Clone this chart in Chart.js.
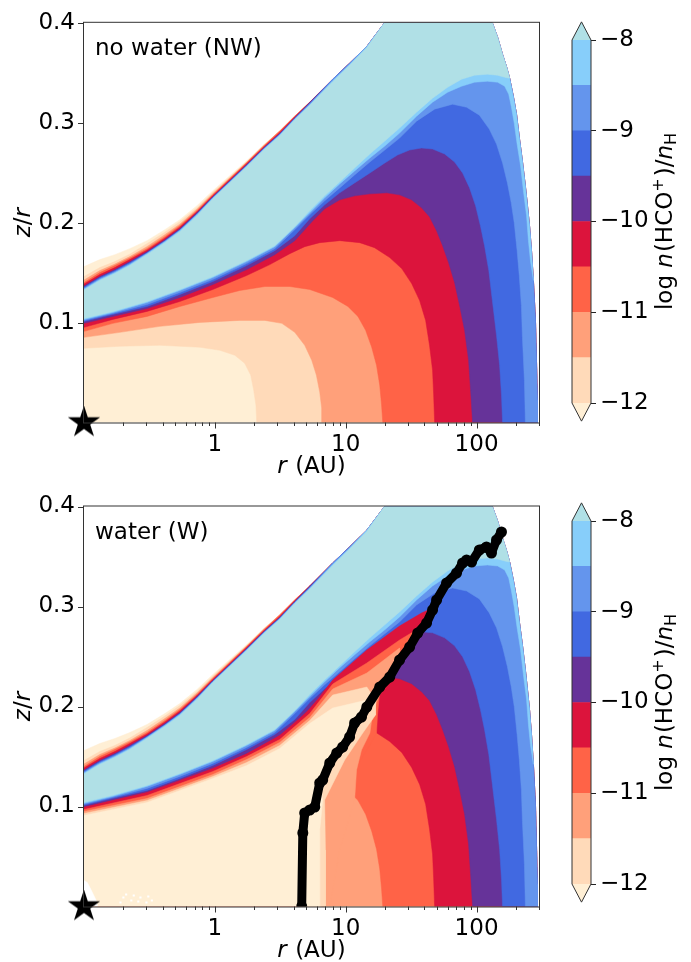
<!DOCTYPE html>
<html>
<head>
<meta charset="utf-8">
<script src="https://cdn.jsdelivr.net/npm/chart.js@4.4.0/dist/chart.umd.min.js"></script>
<style>
  html, body { margin: 0; padding: 0; background: #fff; }
  #wrap { position: relative; width: 691px; height: 962px; }
  canvas { position: absolute; }
</style>
</head>
<body>
<div id="wrap">
  <canvas id="nw" width="691" height="481" style="left:0;top:0;width:691px;height:481px"></canvas>
  <canvas id="cbnw" width="131" height="481" style="left:560px;top:0;width:131px;height:481px"></canvas>
  <canvas id="w" width="691" height="481" style="left:0;top:481px;width:691px;height:481px"></canvas>
  <canvas id="cbw" width="131" height="481" style="left:560px;top:481px;width:131px;height:481px"></canvas>
</div>
<script>
// axis ticks
const xMajor = [1, 10, 100];
const xMinor = [0.2, 0.3, 0.4, 0.5, 0.6, 0.7, 0.8, 0.9, 2, 3, 4, 5, 6, 7, 8, 9, 20, 30, 40, 50, 60, 70, 80, 90, 200, 300];
const yMajor = [0.1, 0.2, 0.3, 0.4];
const cbTicks = [-12, -11, -10, -9, -8];

// contour levels (log n(HCO+)/nH) and their fill colours
const levels = [-12, -11.5, -11, -10.5, -10, -9.5, -9, -8.5, -8];
const levelColors = ['#ffdab9', '#ffa07a', '#ff6347', '#dc143c', '#663399', '#4169e1', '#6495ed', '#87cefa', '#b0e0e6'];
const underColor = '#ffefd5';

// model domain outline [r (AU), z/r]
const domainEdge = [[0.1,0.156],[0.132,0.163],[0.172,0.168],[0.224,0.174],[0.303,0.182],[0.415,0.193],[0.54,0.203],[0.73,0.217],[0.965,0.232],[1.30,0.247],[1.75,0.262],[2.37,0.278],[3.13,0.2916],[4.08,0.3066],[5.31,0.3205],[7.95,0.3435],[10.7,0.3595],[14.5,0.3764],[19.8,0.4],[132,0.4],[145,0.3853],[158,0.3684],[170,0.3554],[179,0.3445],[191,0.3265],[202,0.3086],[212,0.2856],[224,0.2617],[236,0.2368],[245,0.2168],[254,0.1969],[263,0.1720],[272,0.1421],[282,0.1022],[287,0.0623],[292,0.0224],[292,0]];

// upper (surface) contours, from the inner edge outwards until they meet the edge
const top12  = [[0.1,0.146],[0.132,0.155],[0.172,0.161],[0.224,0.1685],[0.303,0.179],[0.415,0.1905],[0.54,0.201],[0.73,0.215],[0.965,0.2305],[1.30,0.2458],[1.75,0.261],[2.37,0.278]];
const top115 = [[0.1,0.1425],[0.132,0.152],[0.172,0.1585],[0.224,0.166],[0.303,0.176],[0.415,0.188],[0.54,0.1985],[0.73,0.2135],[0.965,0.229],[1.30,0.2448],[1.75,0.2605],[2.37,0.2772],[3.13,0.2916]];
const top11  = [[0.1,0.140],[0.132,0.150],[0.172,0.157],[0.224,0.1645],[0.303,0.174],[0.415,0.186],[0.54,0.197],[0.73,0.212],[0.965,0.228],[1.30,0.244],[1.75,0.260],[2.37,0.2768],[3.13,0.2916]];
const top105 = [[0.1,0.1385],[0.132,0.148],[0.172,0.155],[0.224,0.163],[0.303,0.1725],[0.415,0.1845],[0.54,0.1955],[0.73,0.211],[0.965,0.227],[1.30,0.243],[1.75,0.259],[2.37,0.2758],[3.13,0.2901],[4.08,0.3058],[5.31,0.3205]];
const top10  = [[0.1,0.1365],[0.132,0.146],[0.172,0.153],[0.224,0.161],[0.303,0.171],[0.415,0.183],[0.54,0.194],[0.73,0.210],[0.965,0.226],[1.30,0.242],[1.75,0.258],[2.37,0.275],[3.13,0.2891],[4.08,0.3051],[5.31,0.3205]];
const top95  = [[0.1,0.1355],[0.132,0.145],[0.172,0.152],[0.224,0.160],[0.303,0.170],[0.415,0.182],[0.54,0.193],[0.73,0.209],[0.965,0.2255],[1.30,0.2415],[1.75,0.2575],[2.37,0.2745],[3.13,0.2886],[4.08,0.3046],[5.31,0.3195],[7.95,0.3435]];
const top9   = [[0.1,0.1345],[0.132,0.144],[0.172,0.151],[0.224,0.159],[0.303,0.1695],[0.415,0.1815],[0.54,0.1925],[0.73,0.2085],[0.965,0.225],[1.30,0.241],[1.75,0.257],[2.37,0.274],[3.13,0.2881],[4.08,0.3041],[5.31,0.319],[7.95,0.3435]];
const top85  = [[0.1,0.1335],[0.132,0.143],[0.172,0.150],[0.224,0.158],[0.303,0.169],[0.415,0.181],[0.54,0.192],[0.73,0.208],[0.965,0.2245],[1.30,0.2405],[1.75,0.2565],[2.37,0.2735],[3.13,0.2876],[4.08,0.3036],[5.31,0.318],[7.95,0.342],[10.7,0.3583],[14.5,0.3764]];
const top8   = [[0.1,0.1325],[0.132,0.142],[0.172,0.149],[0.224,0.157],[0.303,0.168],[0.415,0.180],[0.54,0.191],[0.73,0.207],[0.965,0.224],[1.30,0.240],[1.75,0.256],[2.37,0.273],[3.13,0.287],[4.08,0.3031],[5.31,0.3175],[7.95,0.341],[10.7,0.3575],[14.5,0.375],[19.8,0.4]];

// lower contours, no-water model, from the inner edge to the midplane / outer edge
const low12  = [[0.1,0.0743],[0.188,0.0763],[0.38,0.0773],[0.77,0.0753],[1.09,0.0723],[1.42,0.0673],[1.69,0.0593],[1.88,0.0474],[1.98,0.0324],[2.06,0.0174],[2.09,0]];
const low115 = [[0.1,0.0852],[0.188,0.0902],[0.38,0.0962],[0.77,0.1002],[1.55,0.1022],[2.41,0.1022],[3.25,0.0992],[4.08,0.0902],[4.86,0.0773],[5.5,0.0623],[5.97,0.0474],[6.33,0.0304],[6.55,0.0145],[6.55,0]];
const low11  = [[0.1,0.0912],[0.166,0.0992],[0.303,0.1062],[0.54,0.1161],[0.965,0.1251],[1.55,0.1321],[2.41,0.1361],[3.74,0.1361],[5.31,0.1331],[7.95,0.1251],[10.4,0.1161],[12.4,0.1062],[14.2,0.0922],[15.8,0.0753],[17.2,0.0573],[18.2,0.0374],[18.8,0.0174],[19.2,0]];
const low105 = [[0.1,0.0952],[0.166,0.1032],[0.303,0.1112],[0.54,0.1211],[0.965,0.1331],[1.75,0.1471],[2.63,0.1580],[3.74,0.1690],[4.86,0.1760],[6.33,0.1800],[9.0,0.1820],[12.8,0.1800],[16.6,0.1750],[21.7,0.1650],[26.8,0.1540],[31.9,0.1391],[36.7,0.1221],[40.8,0.1022],[43.7,0.0773],[46.1,0.0523],[47.0,0.0274],[47.8,0]];
const low10  = [[0.1,0.0992],[0.166,0.1062],[0.303,0.1141],[0.54,0.1251],[0.965,0.1381],[1.75,0.1530],[2.87,0.1680],[4.08,0.1820],[5.6,0.2019],[6.91,0.2139],[9.0,0.2228],[11.7,0.2268],[15.3,0.2288],[20.6,0.2298],[25.8,0.2278],[31.9,0.2228],[38.0,0.2148],[43.7,0.2059],[49.5,0.1919],[55.0,0.1770],[61.1,0.1600],[67.9,0.1401],[74.2,0.1171],[81.0,0.0922],[86.9,0.0623],[90.0,0.0324],[93.2,0]];
const low95  = [[0.1,0.1012],[0.166,0.1082],[0.303,0.1161],[0.54,0.1281],[0.965,0.1411],[1.75,0.1570],[2.87,0.1720],[4.08,0.1869],[5.31,0.2039],[6.91,0.2178],[9.0,0.2298],[11.7,0.2398],[15.3,0.2497],[19.9,0.2597],[24.9,0.2677],[30.8,0.2727],[38.0,0.2747],[46.1,0.2737],[57.0,0.2687],[67.9,0.2607],[78.2,0.2497],[88.4,0.2348],[98.3,0.2168],[107,0.1969],[115,0.1770],[124,0.1520],[132,0.1221],[142,0.0872],[150,0.0573],[155,0.0274],[158,0]];
const low9   = [[0.1,0.1022],[0.166,0.1092],[0.303,0.1181],[0.54,0.1301],[0.965,0.1431],[1.75,0.1590],[2.87,0.1740],[4.08,0.1929],[5.31,0.2079],[6.91,0.2218],[9.0,0.2348],[11.7,0.2478],[15.3,0.2607],[19.9,0.2727],[25.8,0.2846],[34.8,0.3016],[47.8,0.3136],[65.6,0.3185],[83.9,0.3155],[105,0.3076],[125,0.2936],[142,0.2787],[158,0.2597],[172,0.2398],[184,0.2198],[194,0.1999],[204,0.1720],[212,0.1471],[220,0.1171],[224,0.0852],[232,0.0424],[236,0]];
const low85  = [[0.1,0.1032],[0.166,0.1102],[0.303,0.1201],[0.54,0.1321],[0.965,0.1451],[1.75,0.1610],[2.87,0.1760],[4.08,0.1949],[5.31,0.2099],[6.91,0.2248],[9.0,0.2388],[11.7,0.2517],[15.3,0.2647],[19.9,0.2767],[25.8,0.2896],[34.8,0.3066],[46.1,0.3205],[60.1,0.3305],[76.8,0.3365],[96.6,0.3405],[121,0.3415],[145,0.3405],[164,0.3365],[176,0.3285],[184,0.3166],[194,0.2996],[204,0.2787],[217,0.2567],[228,0.2318],[241,0.2069],[249,0.1820],[258,0.1620],[272,0.1421]];
const low8   = [[0.1,0.1042],[0.166,0.1112],[0.303,0.1211],[0.54,0.1331],[0.965,0.1461],[1.75,0.1620],[2.87,0.1770],[4.08,0.1959],[5.31,0.2119],[6.91,0.2268],[9.0,0.2408],[11.7,0.2547],[15.3,0.2687],[19.9,0.2817],[25.8,0.2946],[34.8,0.3106],[46.1,0.3245],[60.1,0.3355],[76.8,0.3435],[96.6,0.3475],[121,0.3485],[145,0.3475],[164,0.3455],[179,0.3445]];

// water model: low-abundance zone inside the snow line (upper/right boundary of each zone)
const wLow10  = [[0.1,0.0992],[0.303,0.1141],[0.965,0.1381],[1.75,0.1525],[3.13,0.171],[5.31,0.197],[7.95,0.2265],[14.5,0.2565],[25.8,0.2805],[38.0,0.2935],[46.1,0.2985],[46.1,0.2945],[41.5,0.2815],[35.5,0.2705],[30.8,0.2565],[25.8,0.2435],[21.7,0.2265],[18.2,0.2165],[16.1,0.2015],[12.8,0.1845],[7.55,0.1445],[4.86,0.0985],[4.61,0]];
const wLow105 = [[0.1,0.097],[0.303,0.111],[0.965,0.135],[1.75,0.150],[3.13,0.167],[5.31,0.193],[7.95,0.2225],[14.5,0.2435],[25.8,0.2665],[36.7,0.2785],[30.8,0.2565],[21.7,0.2265],[18.2,0.2145],[17.5,0.1915],[17.2,0.1735],[15.3,0.1615],[11.7,0.1365],[9.0,0.1065],[6.3,0.0565],[4.86,0]];
const wLow11  = [[0.1,0.095],[0.303,0.108],[0.965,0.132],[1.75,0.147],[3.13,0.164],[5.31,0.189],[7.95,0.2175],[14.5,0.2335],[25.8,0.2585],[25.8,0.2445],[21.7,0.2275],[18.8,0.2165],[16.9,0.2015],[15.8,0.1865],[15.3,0.1735],[13.2,0.1565],[12.1,0.1365],[11.7,0.1065],[9.0,0.0565],[7.55,0]];
const wLow115 = [[0.1,0.093],[0.303,0.106],[0.965,0.130],[1.75,0.144],[3.13,0.161],[5.31,0.186],[7.95,0.2115],[14.5,0.2195],[16.9,0.2065],[16.9,0.1915],[13.5,0.1735],[9.82,0.1465],[6.9,0.1065],[7.0,0.0565],[7.0,0]];
const wLow12  = [[0.1,0.091],[0.303,0.104],[0.965,0.128],[1.75,0.141],[3.13,0.158],[5.31,0.183],[7.95,0.1985],[14.5,0.2065],[15.8,0.2025],[14.0,0.1915],[12.4,0.1845],[11.1,0.1715],[9.0,0.1565],[7.95,0.1465],[7.03,0.1285],[6.55,0.1145],[6.67,0.1065],[6.33,0.0765],[6.33,0]];

// water snow line (W)
const snowLine = [[4.61,0],[4.70,0.0735],[4.86,0.0935],[5.31,0.0965],[5.8,0.0995],[6.33,0.1235],[6.67,0.1265],[7.55,0.1435],[8.54,0.1535],[9.48,0.1595],[10.7,0.1695],[11.7,0.1835],[13.2,0.1895],[14.5,0.1995],[18.2,0.2195],[21.7,0.2295],[25.8,0.2465],[30.8,0.2595],[35.5,0.2735],[41.5,0.2835],[46.1,0.2965],[49.5,0.3065],[59,0.3235],[70.3,0.3335],[78.2,0.3435],[83.9,0.3465],[91.6,0.3445],[105,0.3565],[119,0.3595],[130,0.3535],[142,0.3665],[155,0.3745]];

// blank cells near the midplane (W)
const whiteCorner = [[0.1,0],[0.1,0.026],[0.106,0.024],[0.111,0.019],[0.118,0.012],[0.124,0.006],[0.127,0]];
const whiteSpecks = [[0.19,0.004],[0.2,0.009],[0.21,0.012],[0.23,0.006],[0.24,0.011],[0.26,0.005],[0.27,0.009],[0.3,0.004],[0.31,0.01],[0.33,0.006]];

const starPos = [[0.1, 0]];

const family = '"DejaVu Sans", sans-serif';
const FS = 23;

function pts(a) { return a.map(p => ({x: p[0], y: p[1]})); }

// region above a level: surface contour -> domain edge -> lower contour back
function regionPoly(top, low) {
  const tLast = top[top.length - 1][0];
  const lEnd = low[low.length - 1];
  const mid = domainEdge.filter(p => p[0] > tLast && p[1] >= lEnd[1]);
  return top.concat(mid, low.slice().reverse());
}

function fillSet(poly, color) {
  return {data: pts(poly), backgroundColor: color, borderColor: color, borderWidth: 0.5,
          pointRadius: 0, fill: 'shape', tension: 0};
}

function makeStar(size) {
  const c = document.createElement('canvas');
  c.width = c.height = size;
  const g = c.getContext('2d');
  const r = size / 2, ri = r * 0.382;
  g.beginPath();
  for (let i = 0; i < 10; i++) {
    const a = -Math.PI / 2 + i * Math.PI / 5;
    const rr = i % 2 ? ri : r;
    g.lineTo(r + rr * Math.cos(a), r + rr * Math.sin(a));
  }
  g.closePath();
  g.fillStyle = '#000';
  g.fill();
  return c;
}
const starImg = makeStar(34);

const tops = [top12, top115, top11, top105, top10, top95, top9, top85, top8];
const lows = [low12, low115, low11, low105, low10, low95, low9, low85, low8];

function baseSets() {
  const sets = [fillSet(domainEdge.concat([[0.1, 0]]), underColor)];
  levels.forEach((lv, i) => sets.push(fillSet(regionPoly(tops[i], lows[i]), levelColors[i])));
  return sets;
}

function starSet() {
  return {data: pts(starPos), pointStyle: starImg, pointRadius: 17, showLine: false, clip: false};
}

function drawRich(ctx, parts, x, y) {
  let w = 0;
  parts.forEach(p => { ctx.font = p.font; p.w = ctx.measureText(p.t).width + (p.gap || 0); w += p.w; });
  let cx = x - w / 2;
  ctx.textAlign = 'left';
  ctx.textBaseline = 'alphabetic';
  parts.forEach(p => { ctx.font = p.font; ctx.fillText(p.t, cx, y + (p.dy || 0)); cx += p.w; });
}

const reg = FS + 'px ' + family;
const ita = 'italic ' + FS + 'px ' + family;
const small = '16px ' + family;

const decor = {
  id: 'decor',
  afterDatasetsDraw(chart) {
    const {ctx, chartArea: a, scales: {x, y}} = chart;
    ctx.save();
    ctx.strokeStyle = '#333';
    ctx.lineWidth = 1;
    ctx.strokeRect(a.left - 0.5, a.top - 0.5, a.right - a.left + 1, a.bottom - a.top + 1);
    ctx.beginPath();
    xMajor.forEach(v => { const p = Math.round(x.getPixelForValue(v)) + 0.5; ctx.moveTo(p, a.bottom); ctx.lineTo(p, a.bottom + 6); });
    xMinor.forEach(v => { const p = Math.round(x.getPixelForValue(v)) + 0.5; ctx.moveTo(p, a.bottom); ctx.lineTo(p, a.bottom + 3.5); });
    yMajor.forEach(v => { const p = Math.round(y.getPixelForValue(v)) + 0.5; ctx.moveTo(a.left, p); ctx.lineTo(a.left - 6, p); });
    ctx.stroke();
    ctx.restore();
  },
  afterDraw(chart, args, opts) {
    const {ctx, chartArea: a} = chart;
    ctx.save();
    ctx.fillStyle = '#000';
    ctx.font = reg;
    ctx.textAlign = 'left';
    ctx.textBaseline = 'alphabetic';
    ctx.fillText(opts.label, a.left + 11, a.top + 32);
    drawRich(ctx, [{t: 'r', font: ita, gap: 1}, {t: ' (AU)', font: reg}], (a.left + a.right) / 2, a.bottom + 50);
    ctx.translate(30, (a.top + a.bottom) / 2);
    ctx.rotate(-Math.PI / 2);
    drawRich(ctx, [{t: 'z', font: ita}, {t: '/', font: reg}, {t: 'r', font: ita}], 0, 0);
    ctx.restore();
  }
};

function makeMain(id, datasets, cfg) {
  datasets.forEach((d, i) => { d.order = datasets.length - i; });
  return new Chart(document.getElementById(id), {
    type: 'line',
    data: {datasets},
    options: {
      responsive: false, animation: false, events: [],
      layout: {padding: {left: 0, right: 152, top: cfg.top, bottom: 0}},
      plugins: {legend: {display: false}, tooltip: {enabled: false}, decor: {label: cfg.label}},
      scales: {
        x: {
          type: 'logarithmic', min: 0.1, max: 300,
          afterBuildTicks: s => { s.ticks = xMajor.map(v => ({value: v})); },
          afterFit: s => { s.height = cfg.xh; },
          grid: {display: false, drawTicks: false}, border: {display: false},
          ticks: {padding: 9, color: '#000', font: {family, size: FS}, maxRotation: 0, autoSkip: false,
                  callback: v => String(v)}
        },
        y: {
          type: 'linear', min: 0, max: 0.4,
          afterBuildTicks: s => { s.ticks = yMajor.map(v => ({value: v})); },
          afterFit: s => { s.width = 84; },
          grid: {display: false, drawTicks: false}, border: {display: false},
          ticks: {padding: 9, color: '#000', font: {family, size: FS}, callback: v => v.toFixed(1)}
        }
      }
    },
    plugins: [decor]
  });
}

const cbDecor = {
  id: 'cbDecor',
  afterDatasetsDraw(chart) {
    const {ctx, chartArea: a, scales: {y}} = chart;
    const l = a.left, r = a.right, m = (l + r) / 2;
    const yTop = y.getPixelForValue(-8), yTip = y.getPixelForValue(-7.8);
    const yBot = y.getPixelForValue(-12), yBtip = y.getPixelForValue(-12.2);
    ctx.save();
    ctx.fillStyle = levelColors[8];
    ctx.beginPath(); ctx.moveTo(l, yTop); ctx.lineTo(m, yTip); ctx.lineTo(r, yTop); ctx.closePath(); ctx.fill();
    ctx.fillStyle = underColor;
    ctx.beginPath(); ctx.moveTo(l, yBot); ctx.lineTo(m, yBtip); ctx.lineTo(r, yBot); ctx.closePath(); ctx.fill();
    ctx.strokeStyle = '#333';
    ctx.lineWidth = 1;
    ctx.beginPath();
    ctx.moveTo(l, yTop); ctx.lineTo(m, yTip); ctx.lineTo(r, yTop);
    ctx.lineTo(r, yBot); ctx.lineTo(m, yBtip); ctx.lineTo(l, yBot);
    ctx.closePath();
    ctx.stroke();
    ctx.fillStyle = '#000';
    ctx.translate(112, (yTop + yBot) / 2);
    ctx.rotate(-Math.PI / 2);
    drawRich(ctx, [
      {t: 'log ', font: reg}, {t: 'n', font: ita, gap: 1}, {t: '(HCO', font: reg},
      {t: '+', font: small, dy: -9, gap: 2}, {t: ')/', font: reg}, {t: 'n', font: ita},
      {t: 'H', font: small, dy: 4}
    ], 0, 0);
    ctx.restore();
  }
};

function makeColorbar(id) {
  const sets = levels.slice(0, 8).map((lo, i) => ({
    data: [[lo, lo + 0.5]], backgroundColor: levelColors[i], borderWidth: 0,
    grouped: false, barPercentage: 1, categoryPercentage: 1
  }));
  return new Chart(document.getElementById(id), {
    type: 'bar',
    data: {labels: ['cb'], datasets: sets},
    options: {
      responsive: false, animation: false, events: [],
      layout: {padding: {left: 12, right: 0, top: 21.85, bottom: 59.85}},
      plugins: {legend: {display: false}, tooltip: {enabled: false}},
      scales: {
        x: {display: false},
        y: {
          position: 'right', min: -12.2, max: -7.8,
          afterBuildTicks: s => { s.ticks = cbTicks.map(v => ({value: v})); },
          afterFit: s => { s.width = 100; },
          grid: {drawOnChartArea: false, drawTicks: true, tickLength: 5, color: '#222', lineWidth: 1},
          border: {display: false},
          ticks: {padding: 4, color: '#000', font: {family, size: FS}, callback: v => '\u2212' + Math.abs(v)}
        }
      }
    },
    plugins: [cbDecor]
  });
}

// no-water panel
makeMain('nw', baseSets().concat([starSet()]), {top: 21.3, xh: 58.5, label: 'no water (NW)'});

// water panel
const wSets = baseSets();
[[wLow10, levelColors[3]], [wLow105, levelColors[2]], [wLow11, levelColors[1]], [wLow115, levelColors[0]], [wLow12, underColor]]
  .forEach(([b, c]) => wSets.push(fillSet([[0.1, 0]].concat(b), c)));
wSets.push({data: pts(whiteCorner), backgroundColor: '#fff', borderColor: '#fff', borderWidth: 0.5, pointRadius: 0, fill: 'shape'});
wSets.push({data: pts(whiteSpecks), showLine: false, pointStyle: 'rect', pointRadius: 1.5, backgroundColor: '#fff', borderWidth: 0});
wSets.push({data: pts(snowLine), borderColor: '#000', borderWidth: 9, backgroundColor: '#000',
            pointRadius: 5.5, pointBorderWidth: 0, fill: false, borderJoinStyle: 'round', borderCapStyle: 'round'});
wSets.push(starSet());
makeMain('w', wSets, {top: 25.5, xh: 55.5, label: 'water (W)'});

makeColorbar('cbnw');
makeColorbar('cbw');
</script>
</body>
</html>
